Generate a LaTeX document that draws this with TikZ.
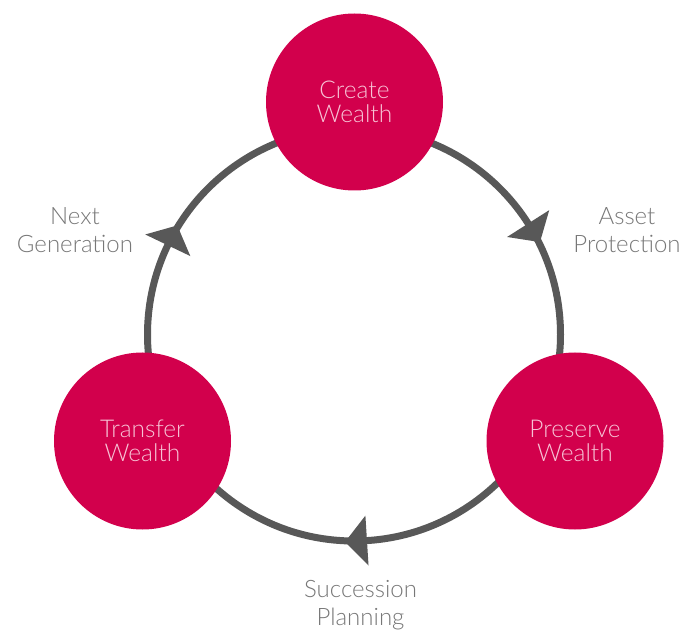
\documentclass[tikz,border=0pt]{standalone}
\usepackage{fontspec}
\setmainfont{Lato Light}
\definecolor{crim}{HTML}{D2004C}
\definecolor{ringc}{HTML}{585858}
\definecolor{lbl}{HTML}{777777}
\definecolor{ctext}{HTML}{F7C3D5}
\begin{document}
\begin{tikzpicture}[x=1pt,y=1pt,
  stage/.style={circle, fill=crim, minimum size=177pt, inner sep=0pt, text=ctext,
    font=\fontsize{24.5}{24}\selectfont, align=center},
  lab/.style={text=lbl, font=\fontsize{24}{28}\selectfont, align=center, anchor=base, inner sep=0pt},
  ringline/.style={draw=ringc, line width=7pt},
  head/.style={fill=ringc}]
\useasboundingbox (0,0) rectangle (699,630);
\coordinate (c) at (354,295.5);
\draw[ringline] (c) circle[radius=206.5];
\foreach \a in {32.5,154.4,273.6}{
  \fill[head, shift={(c)}, rotate=\a] (206.5-25,0) -- (206.5+25,0) -- (206.5,-22) -- cycle;
}
\node[stage] (create) at (354.5,528) {Create\\Wealth};
\node[stage] (transfer) at (142.5,189) {Transfer\\Wealth};
\node[stage] (preserve) at (575,189) {Preserve\\Wealth};
\node[lab] (next) at (75,377) {Next\\Generation};
\node[lab] (asset) at (627,377) {Asset\\Protection};
\node[lab] (succ) at (360.5,5) {Succession\\Planning};
\end{tikzpicture}
\end{document}
